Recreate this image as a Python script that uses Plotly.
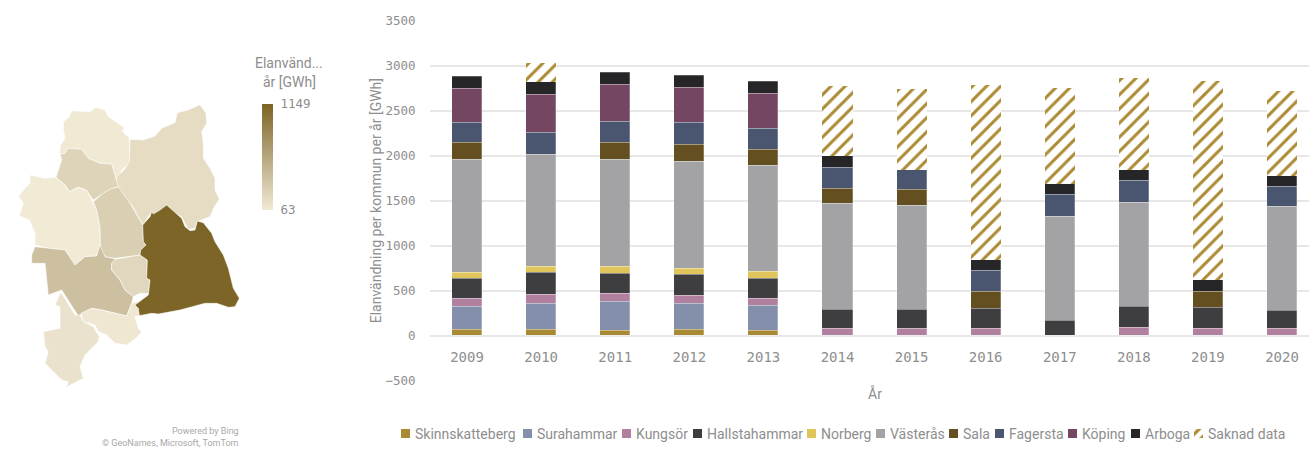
import plotly.graph_objects as go

YEARS = ["2009","2010","2011","2012","2013","2014","2015","2016","2017","2018","2019","2020"]
Skinnskatteberg = [67,67,56,67,56,None,None,None,None,None,None,None]
Surahammar = [255,292,322,292,277,None,None,None,None,None,None,None]
Kungsor = [89,93,85,82,82,81,81,85,None,93,85,78]
Hallstahammar = [219,248,230,233,222,215,212,215,174,226,226,207]
Norberg = [74,63,77,74,74,None,None,None,None,None,None,None]
Vasteras = [1255,1252,1189,1189,1178,1174,1151,None,1148,1162,None,1152]
Sala = [185,None,185,189,178,167,175,189,None,None,182,None]
Fagersta = [223,244,237,241,237,233,222,230,241,241,None,222]
Koping = [381,415,412,392,389,None,None,None,None,None,None,None]
Arboga = [126,145,129,130,133,126,None,129,122,126,126,119]
Saknad = [None,211,None,None,None,778,907,1945,1074,1019,2218,944]

SERIES = [
    ("Skinnskatteberg", Skinnskatteberg, "#a98a34"),
    ("Surahammar", Surahammar, "#8490ab"),
    ("Kungsör", Kungsor, "#b2809f"),
    ("Hallstahammar", Hallstahammar, "#3e3e40"),
    ("Norberg", Norberg, "#dfc55c"),
    ("Västerås", Vasteras, "#a3a3a5"),
    ("Sala", Sala, "#634f1f"),
    ("Fagersta", Fagersta, "#4a566f"),
    ("Köping", Koping, "#744662"),
    ("Arboga", Arboga, "#262628"),
]
SAKNAD_NAME = "Saknad data"
SAKNAD_COLOR = "#ab8b34"

# Municipality outlines, in map units, with each one's electricity use (GWh)
MAP_MIN, MAP_MAX = 63, 1149
MAP_REGIONS = {
    "Norberg": (74, [(190,275),(207,262),(215,242),(270,245),(288,232),(315,240),(325,260),(355,280),(372,292),(368,305),(388,325),(390,385),(388,400),(370,415),(348,448),(335,402),(300,400),(265,385),(245,358),(205,355),(195,370),(178,372),(182,345),(195,325),(190,300)]),
    "Sala": (180, [(390,328),(430,330),(465,318),(485,295),(525,278),(532,248),(565,240),(600,224),(618,250),(620,280),(605,305),(610,340),(610,385),(630,415),(645,445),(645,480),(658,508),(643,530),(630,560),(600,572),(590,575),(585,595),(565,598),(555,580),(545,560),(520,545),(500,525),(478,545),(460,555),(455,545),(435,575),(428,585),(420,570),(395,525),(370,500),(348,465),(350,440),(372,420),(388,395)]),
    "Fagersta": (240, [(205,355),(245,358),(265,385),(300,400),(335,402),(348,450),(355,470),(330,478),(310,490),(280,510),(258,480),(235,472),(208,485),(195,465),(168,442),(185,390),(180,372),(195,370)]),
    "Skinnskatteberg": (67, [(90,435),(135,445),(168,442),(195,465),(208,485),(235,472),(262,482),(275,510),(290,540),(300,590),(302,645),(290,678),(255,680),(225,705),(195,660),(145,655),(105,645),(105,610),(88,570),(58,558),(70,520),(55,500),(75,475),(90,460)]),
    "Surahammar": (280, [(280,515),(310,490),(330,478),(355,470),(390,520),(428,585),(430,635),(438,645),(422,660),(420,675),(345,685),(320,682),(302,665),(302,640),(300,590),(290,540)]),
    "Köping": (400, [(105,650),(95,675),(95,700),(135,700),(145,795),(185,780),(235,858),(275,835),(305,840),(380,858),(395,820),(400,800),(375,780),(360,750),(335,720),(335,700),(350,688),(315,680),(300,645),(290,678),(255,680),(225,705),(195,660),(145,655)]),
    "Hallstahammar": (215, [(345,688),(420,675),(442,690),(440,745),(450,750),(445,790),(420,790),(400,800),(375,780),(360,750),(335,720),(335,700)]),
    "Kungsör": (85, [(243,850),(275,835),(305,840),(380,858),(395,820),(415,815),(418,857),(405,860),(415,895),(425,905),(408,925),(380,945),(345,940),(320,915),(295,905),(285,885),(250,875)]),
    "Arboga": (126, [(180,790),(165,825),(180,830),(180,895),(130,905),(135,950),(145,965),(135,1000),(185,1050),(205,1055),(198,1072),(250,1045),(240,1010),(255,975),(295,935),(298,920),(280,890),(250,875),(240,855),(225,855),(185,790)]),
    "Västerås": (1149, [(500,525),(525,548),(545,565),(555,590),(570,602),(585,600),(592,573),(610,578),(635,610),(645,635),(670,675),(685,715),(700,775),(718,805),(705,830),(685,832),(650,820),(615,820),(575,830),(540,840),(475,852),(455,850),(418,857),(415,835),(405,825),(445,795),(450,750),(440,745),(442,690),(420,675),(422,660),(438,645),(430,635),(428,585),(450,560),(455,545),(460,552),(480,540)]),
}
SCALE_LOW = (241,234,214)
SCALE_HIGH = (125,100,39)

FONT = "Roboto"
MONO = "DejaVu Sans Mono"
GREY = "#8e8e8e"
W, H = 1309, 450

def py(p):
    return 1 - p / H

def px(p):
    return p / W

def shade(v):
    t = (v - MAP_MIN) / (MAP_MAX - MAP_MIN)
    c = [round(a + (b - a) * t) for a, b in zip(SCALE_LOW, SCALE_HIGH)]
    return f"rgb({c[0]},{c[1]},{c[2]})"

STRIPES = dict(shape="/", fgcolor=SAKNAD_COLOR, bgcolor="white", fgopacity=1, fillmode="replace")

fig = go.Figure()

for name, vals, color in SERIES:
    fig.add_bar(x=YEARS, y=vals, name=name, width=0.405, showlegend=False,
                marker=dict(color=color, line=dict(color="rgba(255,255,255,0.35)", width=0.7)))
fig.add_bar(x=YEARS, y=Saknad, name=SAKNAD_NAME, width=0.405, showlegend=False,
            marker=dict(color=SAKNAD_COLOR, line=dict(width=0), pattern=dict(size=10, solidity=0.3, **STRIPES)))

for name, (val, pts) in MAP_REGIONS.items():
    xs = [p[0] for p in pts] + [pts[0][0]]
    ys = [p[1] for p in pts] + [pts[0][1]]
    fig.add_scatter(x=xs, y=ys, xaxis="x2", yaxis="y2", mode="lines", fill="toself", name=name,
                    fillcolor=shade(val), line=dict(color="rgba(255,255,255,0.7)", width=0.8),
                    showlegend=False, hoverinfo="name")

fig.add_heatmap(x=[0, 1], y=[MAP_MIN, MAP_MAX], z=[[MAP_MIN, MAP_MIN], [MAP_MAX, MAP_MAX]],
                xaxis="x3", yaxis="y3", zsmooth="best", showscale=False,
                colorscale=[[0, "rgb(%d,%d,%d)" % SCALE_LOW], [1, "rgb(%d,%d,%d)" % SCALE_HIGH]])

LEGEND_LEFT = [401, 523.3, 622.3, 693.3, 806.7, 875.7, 949, 995, 1068.3, 1131, 1194.3]
annots = []
for left, (name, _, color) in zip(LEGEND_LEFT, SERIES):
    fig.add_bar(x=[left + 4.5], y=[1], width=[9], xaxis="x4", yaxis="y4", showlegend=False,
                marker=dict(color=color, line=dict(width=0)), hoverinfo="skip")
    annots.append((left + 12, name))
fig.add_bar(x=[LEGEND_LEFT[-1] + 4.5], y=[1], width=[9], xaxis="x4", yaxis="y4", showlegend=False,
            marker=dict(color=SAKNAD_COLOR, line=dict(width=0), pattern=dict(size=8, solidity=0.4, **STRIPES)),
            hoverinfo="skip")
annots.append((LEGEND_LEFT[-1] + 12, SAKNAD_NAME))

annotations = [dict(x=px(x), y=py(434), xref="paper", yref="paper", text=t, showarrow=False, xanchor="left",
                    yanchor="middle", font=dict(family=FONT, size=14, color=GREY)) for x, t in annots]
for x, y, text, anchor, size, color in [
    (875, 393, "År", "center", 14, GREY),
    (289, 63, "Elanvänd...", "center", 14, GREY),
    (289, 82, "år [GWh]", "center", 14, GREY),
    (241, 431, "Powered by Bing", "right", 9, "#a8a8a8"),
    (241, 443, "© GeoNames, Microsoft, TomTom", "right", 9, "#a8a8a8"),
]:
    annotations.append(dict(x=px(x), y=py(y), xref="paper", yref="paper", text=text, showarrow=False,
                            xanchor=anchor, yanchor="middle", font=dict(family=FONT, size=size, color=color)))

hidden = dict(visible=False, showgrid=False, zeroline=False, fixedrange=True)
fig.update_layout(
    width=W, height=H, autosize=False, margin=dict(l=0, r=0, t=0, b=0, autoexpand=False),
    paper_bgcolor="white", plot_bgcolor="white", barmode="stack", bargap=0,
    font=dict(family=FONT, color=GREY),
    xaxis=dict(domain=[px(430), 1], type="category", range=[-0.5, 11.364], anchor="free",
               position=py(335.7), showgrid=False, zeroline=False, showline=False, ticks="outside", ticklen=8,
               tickcolor="rgba(0,0,0,0)", tickfont=dict(family=MONO, size=14, color=GREY)),
    yaxis=dict(domain=[py(380.7), py(20.5)], range=[-500, 3500], tick0=-500, dtick=500,
               gridcolor="#e7e7e7", gridwidth=1.5, zeroline=True, zerolinecolor="#e7e7e7", zerolinewidth=1.5,
               showline=False, ticks="outside", ticklen=11, tickcolor="rgba(0,0,0,0)",
               tickfont=dict(family=MONO, size=12.5, color=GREY),
               title=dict(text="Elanvändning per kommun per år [GWh]", standoff=0,
                          font=dict(family=FONT, size=14, color=GREY))),
    xaxis2=dict(domain=[0, px(340)], range=[0, 1020], anchor="y2", **hidden),
    yaxis2=dict(domain=[0, py(30)], range=[1260, 0], anchor="x2", **hidden),
    xaxis3=dict(domain=[px(262), px(273)], range=[0, 1], anchor="y3", **hidden),
    yaxis3=dict(domain=[py(210), py(104)], range=[MAP_MIN, MAP_MAX], anchor="x3", side="right",
                showgrid=False, zeroline=False, showline=False, tickvals=[MAP_MIN, MAP_MAX], ticks="outside",
                ticklen=4, tickcolor="rgba(0,0,0,0)", tickfont=dict(family=MONO, size=12.5, color=GREY)),
    xaxis4=dict(domain=[0, 1], range=[0, W], anchor="y4", **hidden),
    yaxis4=dict(domain=[py(438), py(429)], range=[0, 1], anchor="x4", **hidden),
    annotations=annotations,
)

fig.write_html("out.html", config=dict(displayModeBar=False), post_script="document.body.style.margin='0';")
